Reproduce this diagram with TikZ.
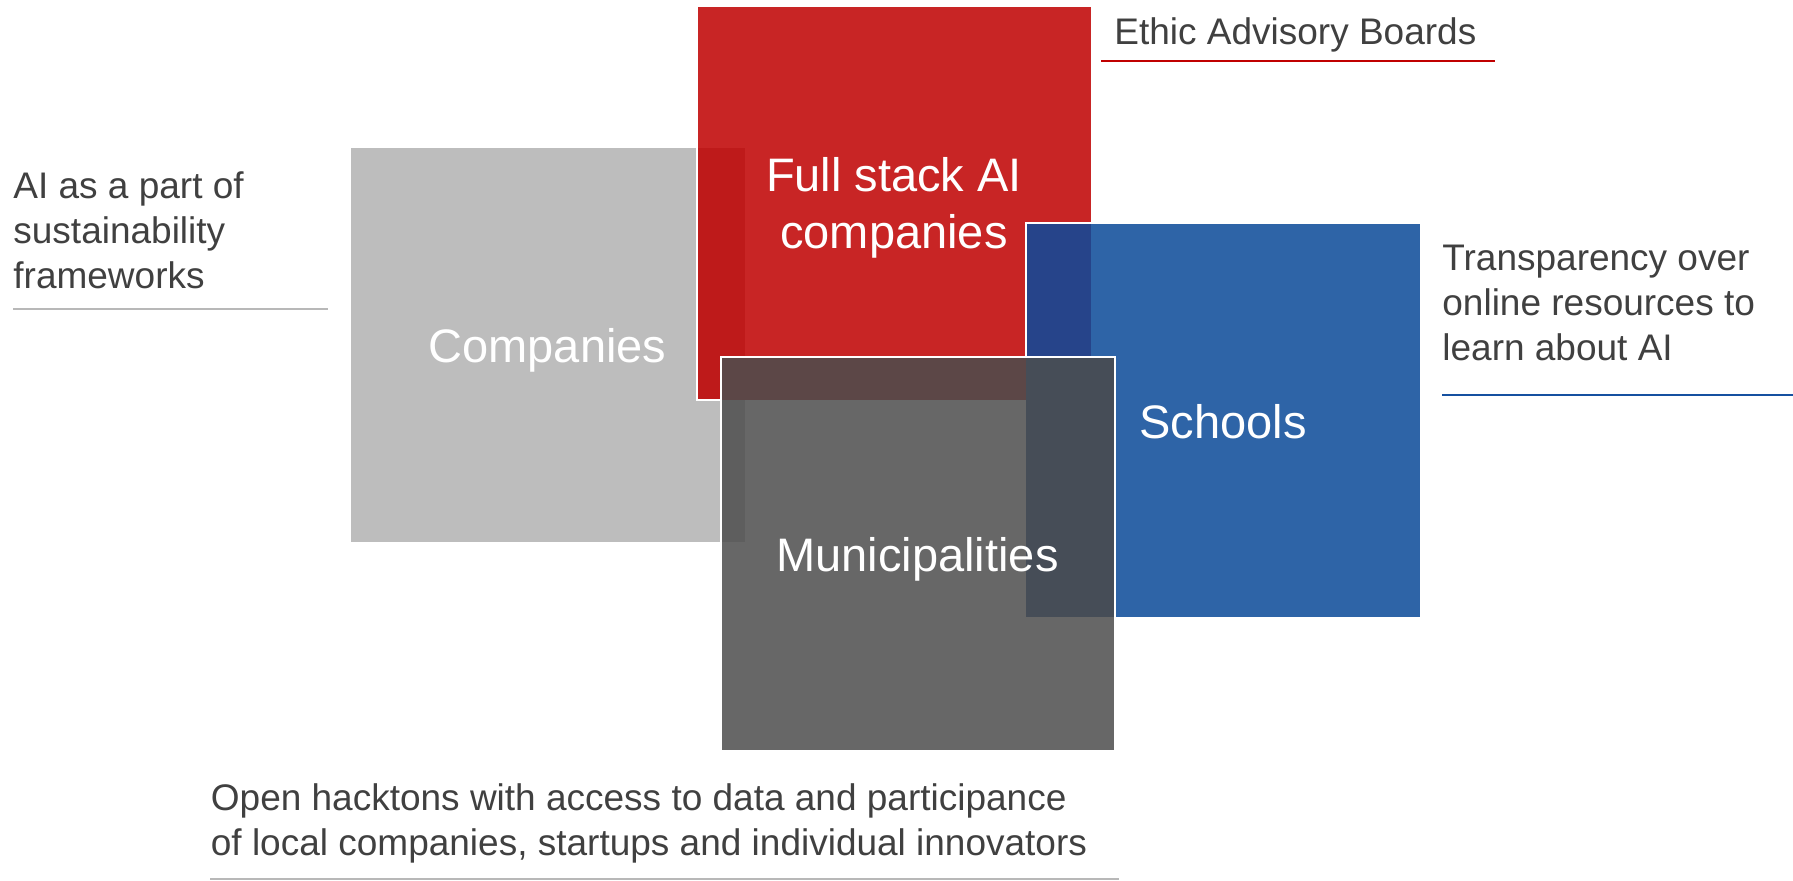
\documentclass[tikz,border=0pt]{standalone}
\usepackage{fontspec}
\setmainfont{Liberation Sans}
\usepackage{tikz}

\definecolor{compgrey}{RGB}{189,189,189}
\definecolor{aired}{RGB}{200,37,37}
\definecolor{schoolblue}{RGB}{46,100,167}
\definecolor{munigrey}{RGB}{103,103,103}
\definecolor{redgrey}{RGB}{190,26,26}
\definecolor{redblue}{RGB}{38,68,138}
\definecolor{munired}{RGB}{92,71,71}
\definecolor{muniblue}{RGB}{70,77,87}
\definecolor{munidark}{RGB}{94,94,94}
\definecolor{textgrey}{RGB}{64,64,64}
\definecolor{rulegrey}{RGB}{184,184,184}
\definecolor{rulered}{RGB}{192,0,0}
\definecolor{ruleblue}{RGB}{21,80,160}

\begin{document}
\begin{tikzpicture}[x=0.5pt,y=0.5pt,yscale=-1,
  box/.style={minimum width=197pt,minimum height=197pt,inner sep=0pt,outer sep=0pt},
  boxtext/.style={text=white,font=\fontsize{23.5}{28.3}\selectfont,align=center,inner sep=0pt,anchor=base,yshift=-9pt},
  sidetext/.style={text=textgrey,font=\fontsize{18.5}{22.3}\selectfont,align=left,anchor=base west,inner sep=0pt},
  edge/.style={white,line width=1pt},
  rule/.style={line width=1pt}]
\useasboundingbox (0,0) rectangle (1793,880);

% Square
\node [box,fill=compgrey] (companies) at (547.5,344.5) {};
% Square
\node [box,fill=aired] (fullstack) at (894,203) {};
% Square
\node [box,fill=schoolblue] (schools) at (1223,420) {};
% Square
\node [box,fill=munigrey] (municip) at (917.5,553.5) {};

% Overlap
\fill [redgrey] (fullstack.west |- companies.north) rectangle (companies.east |- fullstack.south);
% Overlap
\fill [redblue] (schools.north west) rectangle (fullstack.south east);
% Overlap
\fill [munidark] (municip.north west) rectangle (companies.south east);
% Overlap
\fill [munired] (municip.north west) rectangle (fullstack.south east);
% Overlap
\fill [muniblue] (schools.west |- municip.north) rectangle (municip.east |- schools.south);

% Outline
\draw [edge] (fullstack.north east) -- (fullstack.north west) -- (fullstack.south west) -- (municip.west |- fullstack.south);
% Outline
\draw [edge] (schools.north east) -- (schools.north west) -- (schools.west |- municip.north);
% Outline
\draw [edge] (municip.south west) rectangle (municip.north east);

% Text Node
\node [boxtext] (companies-label) at (companies) {Companies};
% Text Node
\node [boxtext,yshift=-13.6pt] (fullstack-label) at (fullstack) {Full stack AI\\companies};
% Text Node
\node [boxtext] (schools-label) at (schools) {Schools};
% Text Node
\node [boxtext] (municip-label) at (municip) {Municipalities};

% Text Node
\node [sidetext] (frameworks) at (13,288) {AI as a part of\\sustainability\\frameworks};
% Text Node
\node [sidetext] (ethics) at (1114,44) {Ethic Advisory Boards};
% Text Node
\node [sidetext] (transparency) at (1442,360) {Transparency over\\online resources to\\learn about AI};
% Text Node
\node [sidetext] (hackatons) at (210.5,855) {Open hacktons with access to data and participance\\of local companies, startups and individual innovators};

% Rule
\coordinate (frameworks-a) at (13,309);
\coordinate (frameworks-b) at (328,309);
\draw [rule,rulegrey] (frameworks-a) -- (frameworks-b);
% Rule
\coordinate (ethics-a) at (1101,61);
\coordinate (ethics-b) at (1495,61);
\draw [rule,rulered] (ethics-a) -- (ethics-b);
% Rule
\coordinate (transparency-a) at (1442,395);
\coordinate (transparency-b) at (1793,395);
\draw [rule,ruleblue,line width=1.35pt] (transparency-a) -- (transparency-b);
% Rule
\coordinate (hackatons-a) at (210,878.5);
\coordinate (hackatons-b) at (1119,878.5);
\draw [rule,rulegrey] (hackatons-a) -- (hackatons-b);

\end{tikzpicture}
\end{document}
